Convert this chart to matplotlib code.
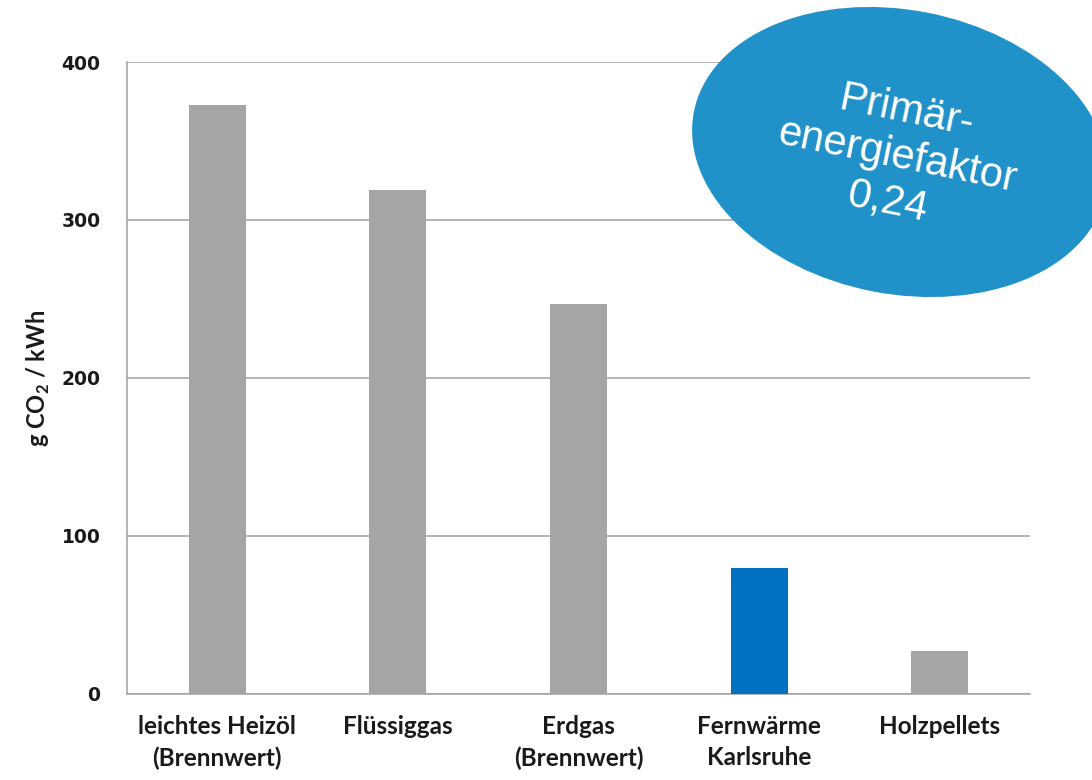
import matplotlib.pyplot as plt
import matplotlib.transforms as mtrans
from matplotlib.patches import Ellipse

# daten
kategorien = ['leichtes Heizöl\n(Brennwert)', 'Flüssiggas', 'Erdgas\n(Brennwert)',
              'Fernwärme\nKarlsruhe', 'Holzpellets']
werte = [373, 319, 247, 80, 27]
farben = ['#A5A5A5', '#A5A5A5', '#A5A5A5', '#0070C0', '#A5A5A5']
y_ticks = [0, 100, 200, 300, 400]

plt.rcParams['mathtext.fontset'] = 'custom'
plt.rcParams['mathtext.bf'] = 'Lato:bold'
plt.rcParams['mathtext.rm'] = 'Lato'

fig = plt.figure(figsize=(10.92, 7.8), dpi=100)
ax = fig.add_axes([0.1163, 0.1103, 0.8269, 0.8102])

x = list(range(len(kategorien)))
ax.bar(x, werte, width=0.315, color=farben, zorder=3)

ax.set_xlim(-0.5, 4.5)
ax.set_ylim(0, 400)
ax.set_yticks(y_ticks)
ax.set_xticks(x)
ax.set_xticklabels(kategorien, family='Lato', fontweight='bold', fontsize=17.5,
                   linespacing=1.45, color='#1a1a1a')
ax.set_yticklabels([str(t) for t in y_ticks], family='DejaVu Sans',
                   fontweight='bold', fontsize=13.5, color='#1a1a1a')
ax.tick_params(axis='both', length=0)
ax.tick_params(axis='y', pad=19)
ax.tick_params(axis='x', pad=15)

# gitter und achsen
ax.grid(axis='y', color='#A0A0A0', linewidth=1.1, zorder=0)
for s in ['top', 'right']:
    ax.spines[s].set_visible(False)
for s in ['left', 'bottom']:
    ax.spines[s].set_color('#A0A0A0')
    ax.spines[s].set_linewidth(1.1)

ax.set_ylabel(r'g CO$_\mathbf{2}$ / kWh', family='Lato', fontweight='bold',
              fontsize=17, color='#1a1a1a')
ax.yaxis.set_label_coords(-0.083, 0.5)

# ellipse mit primärenergiefaktor (in pixeln)
ell = Ellipse((900, 780 - 152), 420, 284, angle=-11, facecolor='#2192C9',
              edgecolor='none', transform=mtrans.IdentityTransform(), zorder=10)
fig.add_artist(ell)
fig.text(897 / 1092, 1 - 157 / 780, 'Primär-\nenergiefaktor\n0,24', family='Liberation Sans',
         fontsize=30, color='white', rotation=-11.5, ha='center', va='center',
         linespacing=1.2, rotation_mode='anchor', zorder=11)

fig.savefig('out.png', dpi=100)
